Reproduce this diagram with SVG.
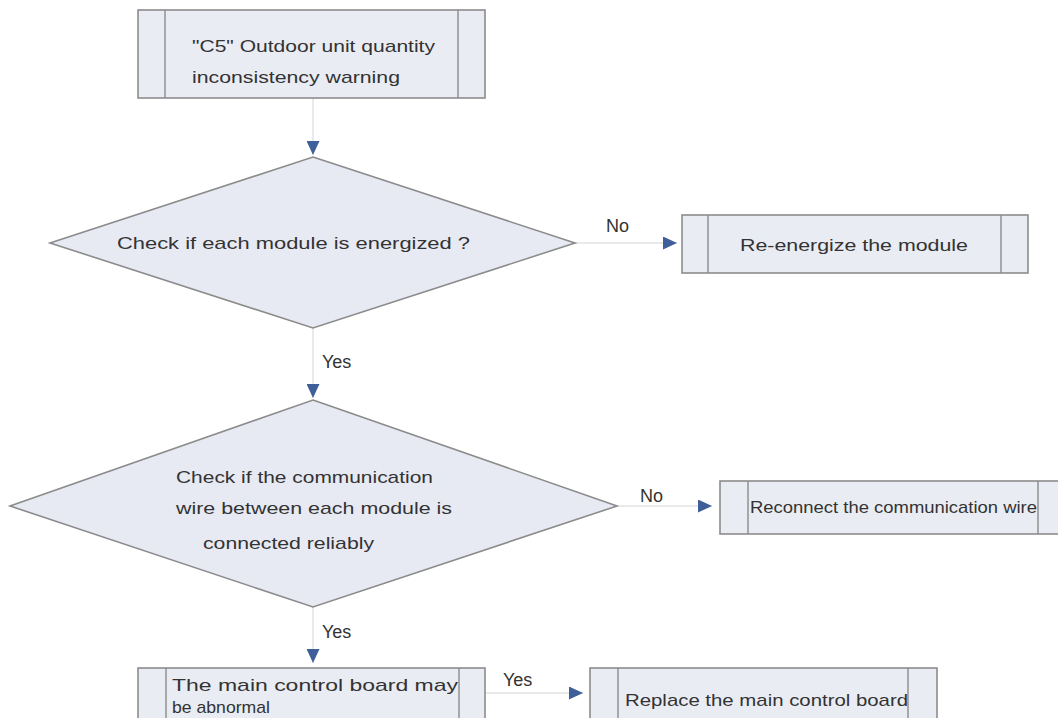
<svg xmlns="http://www.w3.org/2000/svg" width="1058" height="718" viewBox="0 0 1058 718">
<defs>
<style>
.box{fill:#eaecf4;stroke:#8c8c8c;stroke-width:1.6}
.inner{stroke:#8c8c8c;stroke-width:1.4;fill:none}
.dia{fill:#e8eaf3;stroke:#8c8c8c;stroke-width:1.6}
.t{font-family:"Liberation Sans",Arial,sans-serif;font-size:17px;fill:#333}
.lbl{font-family:"Liberation Sans",Arial,sans-serif;font-size:18px;fill:#333}
.con{stroke:#d2d4d8;stroke-width:1;fill:none}
</style>
<marker id="ah" markerWidth="15" markerHeight="13" refX="14" refY="6.5" orient="auto" markerUnits="userSpaceOnUse">
<path d="M0,0 L14,6.5 L0,13 Z" fill="#3e5f99"/>
</marker>
</defs>
<rect width="1058" height="718" fill="#ffffff"/>
<g id="connectors">
<path class="con" d="M313,98 L313,155" marker-end="url(#ah)"/>
<path class="con" d="M313,328 L313,398" marker-end="url(#ah)"/>
<path class="con" d="M313,607 L313,663" marker-end="url(#ah)"/>
<path class="con" d="M575,243 L677,243" marker-end="url(#ah)"/>
<path class="con" d="M617,506 L712,506" marker-end="url(#ah)"/>
<path class="con" d="M485,693 L583,693" marker-end="url(#ah)"/>
<text class="lbl" x="606" y="232">No</text>
<text class="lbl" x="322" y="368">Yes</text>
<text class="lbl" x="640" y="502">No</text>
<text class="lbl" x="322" y="638">Yes</text>
<text class="lbl" x="503" y="686">Yes</text>
</g>
<g id="start">
<rect class="box" x="138" y="10" width="347" height="88"/>
<line class="inner" x1="165" y1="10" x2="165" y2="98"/>
<line class="inner" x1="458" y1="10" x2="458" y2="98"/>
<text class="t" x="192" y="52" textLength="243" lengthAdjust="spacingAndGlyphs">"C5" Outdoor unit quantity</text>
<text class="t" x="192" y="83" textLength="208" lengthAdjust="spacingAndGlyphs">inconsistency warning</text>
</g>
<g id="check-energized">
<polygon class="dia" points="313,157 575,243 313,328 50,243"/>
<text class="t" x="117" y="249" textLength="353" lengthAdjust="spacingAndGlyphs">Check if each module is energized ?</text>
</g>
<g id="reenergize">
<rect class="box" x="682" y="215" width="346" height="58"/>
<line class="inner" x1="708" y1="215" x2="708" y2="273"/>
<line class="inner" x1="1001" y1="215" x2="1001" y2="273"/>
<text class="t" x="740" y="251" textLength="228" lengthAdjust="spacingAndGlyphs">Re-energize the module</text>
</g>
<g id="check-wire">
<polygon class="dia" points="313,400 617,506 313,607 10,506"/>
<text class="t" x="176" y="483" textLength="257" lengthAdjust="spacingAndGlyphs">Check if the communication</text>
<text class="t" x="176" y="514" textLength="276" lengthAdjust="spacingAndGlyphs">wire between each module is</text>
<text class="t" x="203" y="549" textLength="171" lengthAdjust="spacingAndGlyphs">connected reliably</text>
</g>
<g id="reconnect">
<rect class="box" x="720" y="481" width="340" height="53"/>
<line class="inner" x1="748" y1="481" x2="748" y2="534"/>
<line class="inner" x1="1038" y1="481" x2="1038" y2="534"/>
<text class="t" x="750" y="513" textLength="287" lengthAdjust="spacingAndGlyphs">Reconnect the communication wire</text>
</g>
<g id="main-board">
<rect class="box" x="138" y="668" width="347" height="60"/>
<line class="inner" x1="166" y1="668" x2="166" y2="728"/>
<line class="inner" x1="459" y1="668" x2="459" y2="728"/>
<text class="t" x="172" y="691" textLength="286" lengthAdjust="spacingAndGlyphs">The main control board may</text>
<text class="t" x="172" y="713" textLength="98" lengthAdjust="spacingAndGlyphs">be abnormal</text>
</g>
<g id="replace-board">
<rect class="box" x="590" y="668" width="347" height="60"/>
<line class="inner" x1="618" y1="668" x2="618" y2="728"/>
<line class="inner" x1="908" y1="668" x2="908" y2="728"/>
<text class="t" x="625" y="706" textLength="283" lengthAdjust="spacingAndGlyphs">Replace the main control board</text>
</g>
</svg>
